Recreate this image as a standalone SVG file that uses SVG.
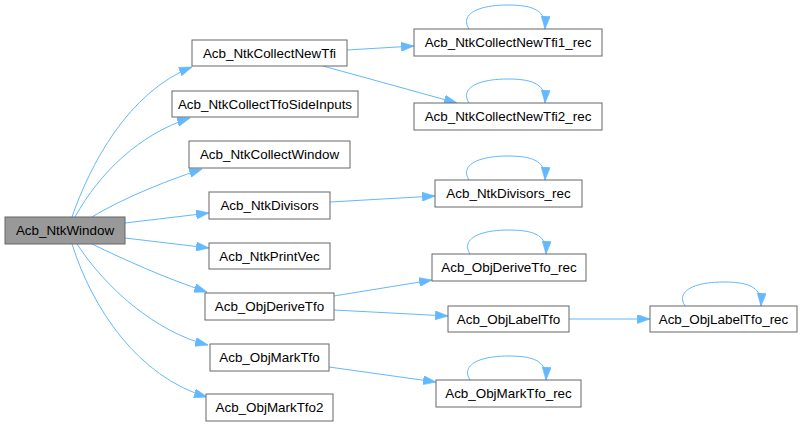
<svg xmlns="http://www.w3.org/2000/svg" width="802" height="427" viewBox="0 0 802 427">
<style>
.n rect{fill:#ffffff;stroke:#666666;stroke-width:1}
.n.main rect{fill:#999999}
.n text{font-family:"Liberation Sans",Arial,sans-serif;font-size:13.4px;fill:#000000;text-anchor:middle}
.e path{fill:none;stroke:#63b8ff;stroke-width:1;marker-end:url(#ah)}
</style>
<defs>
<marker id="ah" viewBox="0 0 10 7" refX="10" refY="3.5" markerWidth="13" markerHeight="9" markerUnits="userSpaceOnUse" orient="auto">
<path d="M0,0 L10,3.5 L0,7 z" fill="#63b8ff" stroke="#63b8ff" stroke-width="0.5"/>
</marker>
</defs>
<rect width="802" height="427" fill="#ffffff"/>
<g id="edges" class="e">
<path d="M72,217 C90,165 128,92 192,67"/>
<path d="M75,217 C100,172 140,134 190,118"/>
<path d="M92,217 C120,200 160,183 202,169"/>
<path d="M125,223 L209,213"/>
<path d="M125,238 L209,248"/>
<path d="M92,244 C125,260 165,278 207,292"/>
<path d="M77,244 C105,287 155,332 208,345"/>
<path d="M72,244 C92,308 138,377 207,397"/>
<path d="M347,50 L414,46"/>
<path d="M323,66 L457,103"/>
<path d="M330,202 L435,196"/>
<path d="M334,296 L432,280"/>
<path d="M334,310 L448,316"/>
<path d="M569,319 L650,319"/>
<path d="M329,367 L436,382"/>
<path d="M469,29 C460,15 476,5 508,5 C536,5 546,12 545,29"/>
<path d="M469,103 C460,89 476,79 508,79 C536,79 546,86 545,103"/>
<path d="M469,180 C460,166 476,156 508,156 C536,156 546,163 545,180"/>
<path d="M470,254 C461,240 477,230 509,230 C537,230 547,237 546,254"/>
<path d="M685,306 C676,292 692,282 724,282 C752,282 762,289 761,306"/>
<path d="M470,380 C461,366 477,356 509,356 C537,356 547,363 546,380"/>
</g>
<g id="Acb_NtkWindow" class="n main"><rect x="5" y="217" width="120" height="27"/><text x="65" y="235">Acb_NtkWindow</text></g>
<g id="Acb_NtkCollectNewTfi" class="n"><rect x="192" y="40" width="155" height="26"/><text x="269.5" y="57.5">Acb_NtkCollectNewTfi</text></g>
<g id="Acb_NtkCollectTfoSideInputs" class="n"><rect x="172" y="91" width="186" height="26"/><text x="265" y="108.5">Acb_NtkCollectTfoSideInputs</text></g>
<g id="Acb_NtkCollectWindow" class="n"><rect x="189" y="141" width="161" height="27"/><text x="269.5" y="159">Acb_NtkCollectWindow</text></g>
<g id="Acb_NtkDivisors" class="n"><rect x="209" y="192" width="121" height="27"/><text x="269.5" y="210">Acb_NtkDivisors</text></g>
<g id="Acb_NtkPrintVec" class="n"><rect x="209" y="243" width="121" height="26"/><text x="269.5" y="260.5">Acb_NtkPrintVec</text></g>
<g id="Acb_ObjDeriveTfo" class="n"><rect x="205" y="293" width="129" height="27"/><text x="269.5" y="311">Acb_ObjDeriveTfo</text></g>
<g id="Acb_ObjMarkTfo" class="n"><rect x="210" y="344" width="119" height="27"/><text x="269.5" y="362">Acb_ObjMarkTfo</text></g>
<g id="Acb_ObjMarkTfo2" class="n"><rect x="206" y="394" width="127" height="27"/><text x="269.5" y="412">Acb_ObjMarkTfo2</text></g>
<g id="Acb_NtkCollectNewTfi1_rec" class="n"><rect x="414" y="29" width="188" height="27"/><text x="508" y="47">Acb_NtkCollectNewTfi1_rec</text></g>
<g id="Acb_NtkCollectNewTfi2_rec" class="n"><rect x="414" y="103" width="188" height="27"/><text x="508" y="121">Acb_NtkCollectNewTfi2_rec</text></g>
<g id="Acb_NtkDivisors_rec" class="n"><rect x="435" y="180" width="147" height="27"/><text x="508.5" y="198">Acb_NtkDivisors_rec</text></g>
<g id="Acb_ObjDeriveTfo_rec" class="n"><rect x="432" y="254" width="154" height="27"/><text x="509" y="272">Acb_ObjDeriveTfo_rec</text></g>
<g id="Acb_ObjLabelTfo" class="n"><rect x="448" y="306" width="121" height="26"/><text x="508.5" y="323.5">Acb_ObjLabelTfo</text></g>
<g id="Acb_ObjLabelTfo_rec" class="n"><rect x="650" y="306" width="147" height="26"/><text x="723.5" y="323.5">Acb_ObjLabelTfo_rec</text></g>
<g id="Acb_ObjMarkTfo_rec" class="n"><rect x="436" y="380" width="145" height="27"/><text x="508.5" y="398">Acb_ObjMarkTfo_rec</text></g>
</svg>
